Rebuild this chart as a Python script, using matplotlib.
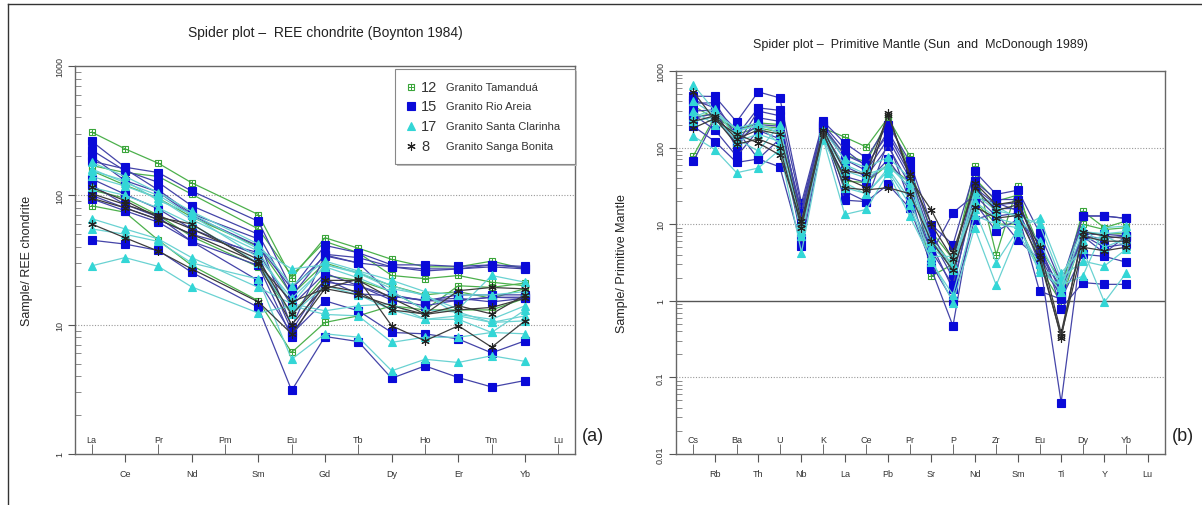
import numpy as np
import matplotlib as mpl
mpl.use('Agg')
import matplotlib.pyplot as plt
from matplotlib.lines import Line2D
from matplotlib.patches import Rectangle

plt.rcParams['font.family'] = ['Liberation Sans', 'DejaVu Sans']

#*******************************************************************************
# element order on the two spider diagrams
ree_elements = ['La', 'Ce', 'Pr', 'Nd', 'Pm', 'Sm', 'Eu', 'Gd', 'Tb', 'Dy', 'Ho', 'Er', 'Tm', 'Yb', 'Lu']
ree_analysed = ['La', 'Ce', 'Pr', 'Nd', 'Sm', 'Eu', 'Gd', 'Tb', 'Dy', 'Ho', 'Er', 'Tm', 'Yb']
pm_elements = ['Cs', 'Rb', 'Ba', 'Th', 'U', 'Nb', 'K', 'La', 'Ce', 'Pb', 'Pr', 'Sr', 'P', 'Nd',
               'Zr', 'Sm', 'Eu', 'Ti', 'Dy', 'Y', 'Yb', 'Lu']
pm_analysed = pm_elements[:-1]

groups = ['Granito Tamanduá', 'Granito Rio Areia', 'Granito Santa Clarinha', 'Granito Sanga Bonita']
group_counts = [12, 15, 17, 8]

# chondrite normalised REE (Boynton 1984)
ree_tamandua = [
    [308, 229, 177, 125, 71, 23, 47, 39, 32, 28, 28, 31, 27],
    [170, 150, 140, 102, 55, 24, 44, 36, 24, 22.7, 24, 21.3, 20],
    [83, 74, 45, 28.7, 15.3, 6.1, 10.4, 11.7, 14, 13, 20, 19.4, 21],
    [155, 120, 95, 68, 40, 17, 30, 25, 20, 17, 18, 16, 19],
    [110, 95, 70, 48, 28, 12, 24, 22, 18, 13, 13, 13, 16],
]
ree_rio_areia = [
    [262, 165, 150, 108, 63, 18.9, 41, 36, 29, 29, 28.2, 29, 28.2],
    [224, 155, 126, 83, 50, 16.7, 35, 33, 28, 27, 27, 28, 27],
    [184, 160, 110, 72, 46, 9.6, 34.6, 30, 28, 26, 27, 29, 27.5],
    [134, 102, 78.5, 55, 34.3, 9, 22.5, 17.3, 16.7, 15.3, 15.3, 16.3, 16.3],
    [94, 76, 62, 44, 28.7, 8.0, 21.3, 20, 16.5, 15.5, 16, 15, 16],
    [45, 42, 37.5, 25.4, 13.6, 3.1, 8.1, 7.4, 3.85, 4.8, 3.9, 3.3, 3.7],
    [120, 85, 68, 44, 21.9, 8.5, 15.3, 12.8, 8.7, 8.5, 7.75, 6.05, 7.5],
    [200, 130, 106, 70, 40.6, 19, 34, 30, 17, 15.3, 17, 17, 17],
    [100, 80, 65, 50, 36, 14, 25, 20, 15.5, 14, 15.5, 16.3, 16],
]
ree_santa_clarinha = [
    [155, 130, 91, 72, 38.5, 27, 29, 25.5, 20, 16.7, 13.2, 24, 21.3],
    [66, 55, 46, 33, 19.4, 14.5, 12.8, 14, 14.5, 11, 11.7, 10.4, 11.7],
    [55, 50, 44, 30, 22.5, 5.4, 8.5, 8.0, 4.4, 5.4, 5.1, 5.75, 5.2],
    [28.5, 33, 28.2, 19.6, 12.3, 14, 12, 11.7, 7.3, 8, 8, 8.7, 8.5],
    [140, 118, 95, 65, 37, 14.5, 29, 25, 19, 17, 12, 11, 14],
    [160, 125, 100, 70, 33, 16, 28, 23, 18, 13, 12.5, 10.4, 10.7],
    [115, 100, 80, 60, 30, 12, 20, 17, 13, 11, 11, 8.7, 13],
    [180, 140, 105, 75, 42, 20, 31, 26, 22, 18, 17, 17, 18],
]
ree_sanga_bonita = [
    [115, 91, 67.5, 60, 29.4, 15, 19, 22.5, 9.8, 7.5, 9.8, 6.7, 10.7],
    [103, 85, 70, 55, 32, 12, 22, 22, 16, 12.1, 18.3, 19.4, 18.9],
    [60, 47, 37, 27, 15, 8.5, 19, 17, 14, 12, 13, 13.6, 16],
    [95, 80, 65, 50, 30, 10, 20, 18, 13, 12.1, 14, 12.1, 17],
]

# primitive mantle normalised (Sun and McDonough 1989)
pm_tamandua = [
    [78, 255, 170, 210, 200, 12, 180, 137, 102, 245, 78, 2.1, 3.0, 57, 4.0, 31.5, 2.9, 1.4, 14.8, 9, 11],
    [250, 280, 150, 180, 160, 10, 160, 36.5, 35, 60, 35, 7, 2.8, 20, 10, 10, 2.7, 0.95, 7.5, 7.5, 7.5],
    [350, 240, 180, 190, 180, 14, 180, 80, 65, 230, 55, 8, 3.5, 40, 20, 24, 5, 1.8, 10, 8.5, 9],
]
pm_rio_areia = [
    [470, 465, 217, 534, 445, 19, 220, 115, 73, 200, 66, 9.9, 5.4, 49, 24.5, 27.8, 7.75, 1.7, 12.8, 12.8, 11.9],
    [380, 385, 141, 330, 306, 17, 200, 94, 57, 164, 52, 7.8, 2.3, 36.5, 21, 21, 4.05, 1.5, 7.4, 7.4, 7.0],
    [300, 310, 100, 245, 220, 12.8, 180, 70, 50, 130, 40, 5.5, 1.41, 28, 16, 16, 3.0, 1.2, 7.0, 6.5, 7.0],
    [270, 170, 77, 168, 130, 6.6, 160, 57, 42, 104, 33, 4.2, 14.1, 24, 12.7, 14, 1.34, 1.05, 4.05, 3.8, 3.2],
    [190, 120, 64, 71, 56, 5.2, 140, 42, 35, 70, 28, 2.6, 0.47, 19, 8.1, 11.5, 6.0, 0.79, 1.73, 1.64, 1.64],
    [66, 240, 120, 200, 190, 15, 190, 80, 60, 150, 45, 6.5, 2.0, 30, 18, 19, 5.0, 1.3, 7.2, 5.0, 5.5],
    [420, 330, 170, 71, 130, 14, 210, 27, 19.7, 33, 16.3, 3.0, 1.0, 11.5, 14, 6.15, 3.5, 0.047, 7.0, 4.2, 7.0],
    [240, 280, 110, 300, 260, 11, 170, 20.6, 19.7, 120, 20, 4.5, 1.6, 22, 19, 15, 4.0, 1.1, 12.8, 12.8, 11.9],
]
pm_santa_clarinha = [
    [660, 300, 170, 190, 170, 10.2, 127, 35, 24.5, 54, 21, 3.8, 3.8, 15.6, 3.15, 8.5, 12.2, 2.33, 4.7, 0.96, 2.3],
    [141, 94, 47, 54, 94, 4.25, 130, 13.4, 15.6, 47, 12.7, 3.5, 0.95, 9, 1.6, 7.8, 2.6, 2.0, 3.3, 2.85, 4.7],
    [220, 250, 120, 150, 120, 8, 150, 50, 40, 60, 30, 5, 2.85, 20, 12, 10, 2.35, 1.6, 2.1, 9.0, 9.45],
    [300, 200, 160, 200, 110, 9, 140, 60, 45, 55, 35, 6, 3.0, 25, 15, 13, 10, 1.9, 9, 5, 6.5],
    [250, 320, 130, 90, 200, 7, 160, 30, 25, 50, 18, 3.2, 1.2, 13, 10, 9, 3.0, 1.3, 6, 7, 5.2],
    [400, 270, 180, 210, 150, 11, 170, 70, 55, 75, 40, 6, 2.5, 27, 17, 12, 6, 1.5, 8, 7.5, 8],
]
pm_sanga_bonita = [
    [534, 230, 150, 115, 80, 10.2, 150, 40, 30, 285, 40, 15.3, 4.3, 30, 15, 18, 5, 0.38, 7, 6, 6],
    [180, 240, 110, 130, 100, 9, 160, 30, 28, 30, 25, 6, 2.5, 17, 12, 13, 3.5, 0.35, 5, 4.5, 5],
    [220, 260, 130, 170, 150, 11, 170, 50, 45, 270, 45, 10, 3.5, 35, 18, 20, 4, 0.33, 8, 7, 6.5],
]

#*******************************************************************************
styles = {
    'Granito Tamanduá': dict(line='#4cb04c', marker='s', mfc='none', mec='#3aa53a', cross=True, ms=5),
    'Granito Rio Areia': dict(line='#4444a8', marker='s', mfc='#0a0ad8', mec='#0a0ad8', cross=False, ms=5.3),
    'Granito Santa Clarinha': dict(line='#6ad2d2', marker='^', mfc='#33d6d6', mec='#33d6d6', cross=False, ms=5.8),
    'Granito Sanga Bonita': dict(line='#3c3c3c', marker=(6, 2, 0), mfc='#222222', mec='#222222', cross=False, ms=6),
}


def draw_group(ax, xs, rows, st):
    for row in rows:
        ax.plot(xs, row, color=st['line'], lw=0.9, marker=st['marker'], ms=st['ms'],
                mfc=st['mfc'], mec=st['mec'], mew=0.8)
        if st['cross']:
            ax.plot(xs, row, ls='none', marker='+', ms=st['ms'] - 0.5, mec=st['mec'], mew=0.7)


def style_axes(ax, names, ylo, yhi, labels):
    ax.set_yscale('log')
    ax.set_ylim(ylo, yhi)
    ax.set_xlim(-0.5, len(names) - 0.5)
    for s in ax.spines.values():
        s.set_color('#666666')
        s.set_linewidth(1.0)
    idx = np.arange(len(names))
    ax.set_xticks(idx[1::2], [names[i] for i in idx[1::2]])
    ax.set_xticks(idx[0::2], [names[i] for i in idx[0::2]], minor=True)
    ax.tick_params(axis='x', which='major', direction='out', length=6, labelsize=6.5,
                   pad=5, color='#555555', labelcolor='#333333')
    ax.tick_params(axis='x', which='minor', direction='in', length=7, labelsize=6.5,
                   pad=-14, color='#555555', labelcolor='#333333')
    ticks = [float(t) for t in labels]
    ax.set_yticks(ticks, labels)
    for lab in ax.get_yticklabels():
        lab.set_rotation(90)
        lab.set_va('center')
    ax.tick_params(axis='y', which='major', direction='out', length=5, labelsize=6.5,
                   pad=3, color='#555555', labelcolor='#333333')
    ax.tick_params(axis='y', which='minor', direction='in', length=4, color='#777777')
    ax.yaxis.set_minor_locator(mpl.ticker.LogLocator(base=10, subs=np.arange(2, 10)))
    ax.yaxis.set_minor_formatter(mpl.ticker.NullFormatter())


#*******************************************************************************
fig = plt.figure(figsize=(12.02, 5.06), dpi=100)
W, H = 1202.0, 506.0

# frame around the figure
fig.add_artist(Line2D([8 / W, 8 / W], [0, 1 - 5 / H], transform=fig.transFigure, color='#333333', lw=1))
fig.add_artist(Line2D([8 / W, 1], [1 - 5 / H, 1 - 5 / H], transform=fig.transFigure, color='#333333', lw=1))

# --- (a) REE chondrite ---
axa = fig.add_axes([75 / W, 1 - 455 / H, 500 / W, 388 / H])
style_axes(axa, ree_elements, 1, 1000, ['1', '10', '100', '1000'])
for v in (10, 100):
    axa.axhline(v, ls=(0, (1, 1.5)), color='#999999', lw=0.8, zorder=0)
xa = [ree_elements.index(e) for e in ree_analysed]
for name, rows in zip(groups, [ree_tamandua, ree_rio_areia, ree_santa_clarinha, ree_sanga_bonita]):
    draw_group(axa, xa, rows, styles[name])
axa.set_ylabel('Sample/ REE chondrite', fontsize=9, color='#222222')
axa.yaxis.set_label_coords(-0.084, 0.5)
fig.text(325 / W, 1 - 33 / H, 'Spider plot –  REE chondrite (Boynton 1984)', ha='center', va='center',
         fontsize=10, color='#222222')
fig.text(582 / W, 1 - 437 / H, '(a)', ha='left', va='center', fontsize=13, color='#222222')

# legend box in the upper right corner
x0, y0, x1, y1 = (395 - 75) / 500, (455 - 165) / 388, 1.0, (455 - 70) / 388
axa.add_patch(Rectangle((x0 + 0.004, y0 - 0.006), x1 - x0, y1 - y0, transform=axa.transAxes,
                        facecolor='#bbbbbb', edgecolor='none', zorder=9, clip_on=False))
axa.add_patch(Rectangle((x0, y0), x1 - x0, y1 - y0, transform=axa.transAxes,
                        facecolor='white', edgecolor='#888888', lw=0.8, zorder=10, clip_on=False))
row_y = [(455 - y) / 388 for y in (88, 107, 127, 147)]
for name, n, ry in zip(groups, group_counts, row_y):
    st = styles[name]
    axa.plot([(411 - 75) / 500], [ry], transform=axa.transAxes, marker=st['marker'], ms=st['ms'],
             mfc=st['mfc'], mec=st['mec'], mew=0.8, ls='none', zorder=11, clip_on=False)
    if st['cross']:
        axa.plot([(411 - 75) / 500], [ry], transform=axa.transAxes, marker='+', ms=st['ms'] - 0.5,
                 mec=st['mec'], mew=0.7, ls='none', zorder=11, clip_on=False)
    axa.text((421 - 75) / 500, ry, str(n), transform=axa.transAxes, fontsize=10.5, va='center',
             color='#333333', zorder=11)
    axa.text((446 - 75) / 500, ry, name, transform=axa.transAxes, fontsize=8, va='center',
             color='#333333', zorder=11)

# --- (b) primitive mantle ---
axb = fig.add_axes([676 / W, 1 - 455 / H, 489 / W, 383 / H])
style_axes(axb, pm_elements, 0.01, 1000, ['0.01', '0.1', '1', '10', '100', '1000'])
axb.set_xlim(-0.8, 21.8)
for v in (0.1, 10, 100):
    axb.axhline(v, ls=(0, (1, 1.5)), color='#999999', lw=0.8, zorder=0)
axb.axhline(1, color='#555555', lw=1.0, zorder=0)
xb = list(range(len(pm_analysed)))
for name, rows in zip(groups, [pm_tamandua, pm_rio_areia, pm_santa_clarinha, pm_sanga_bonita]):
    draw_group(axb, xb, rows, styles[name])
axb.set_ylabel('Sample/ Primitive Mantle', fontsize=9, color='#222222')
axb.yaxis.set_label_coords(-0.098, 0.5)
fig.text(920 / W, 1 - 45 / H, 'Spider plot –  Primitive Mantle (Sun  and  McDonough 1989)', ha='center',
         va='center', fontsize=9, color='#222222')
fig.text(1172 / W, 1 - 437 / H, '(b)', ha='left', va='center', fontsize=13, color='#222222')

plt.savefig('out.png', dpi=100)
